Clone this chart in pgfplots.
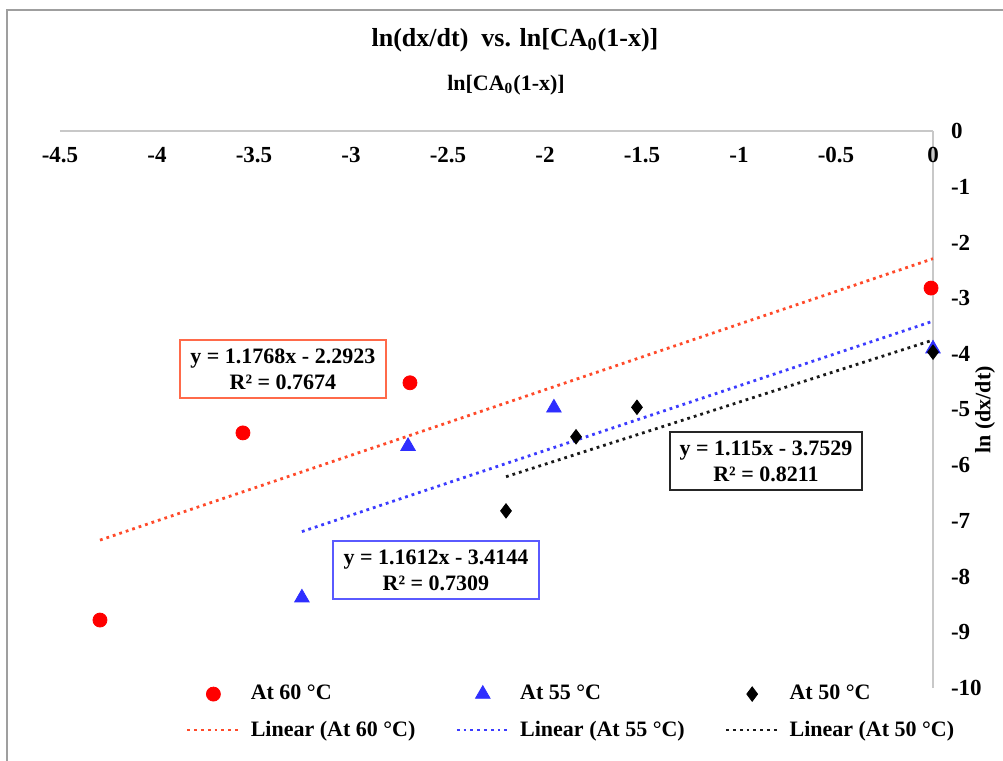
\documentclass[border=0pt]{standalone}
\usepackage{fontspec}
\setmainfont{Liberation Serif}
\usepackage{pgfplots}
\pgfplotsset{compat=1.18}

\definecolor{redpt}{HTML}{FF0000}
\definecolor{bluept}{HTML}{2E2EFF}
\definecolor{redln}{HTML}{FF4A2A}
\definecolor{blueln}{HTML}{3C3CFF}
\definecolor{blackln}{HTML}{1A1A1A}
\definecolor{redbox}{HTML}{FF6A4A}
\definecolor{bluebox}{HTML}{5A5AFF}
\definecolor{axgray}{HTML}{C8C8C8}

\newcommand{\tickfont}{\bfseries\fontsize{11.5}{13}\selectfont}
\newcommand{\lblfont}{\bfseries\fontsize{11}{13}\selectfont}

\begin{document}
\begin{tikzpicture}
\useasboundingbox (0pt,0pt) rectangle (501.5pt,-380.5pt);
\draw[gray!75, line width=1.3pt] (3.5pt,-380.5pt) -- (3.5pt,-5pt) -- (501.5pt,-5pt);

\node[font=\bfseries\fontsize{13}{15}\selectfont] at (257.5pt,-20pt) {ln(dx/dt)\ \ vs. ln[CA\textsubscript{0}(1-x)]};
\node[font=\lblfont] at (253pt,-42.5pt) {ln[CA\textsubscript{0}(1-x)]};
\node[font=\lblfont, rotate=90] at (492.5pt,-205pt) {ln (dx/dt)};

\begin{axis}[
  anchor=north east, at={(466.5pt,-65.5pt)},
  x=97pt, y=27.85pt,
  xmin=-4.5, xmax=0, ymin=-10, ymax=0,
  enlargelimits=false,
  clip=false,
  axis x line*=top, axis y line*=right,
  axis line style={axgray, line width=0.8pt},
  major tick length=0pt,
  xtick={-4.5,-4,-3.5,-3,-2.5,-2,-1.5,-1,-0.5,0},
  xticklabels={-4.5,-4,-3.5,-3,-2.5,-2,-1.5,-1,-0.5,0},
  ytick={-10,-9,-8,-7,-6,-5,-4,-3,-2,-1,0},
  yticklabels={-10,-9,-8,-7,-6,-5,-4,-3,-2,-1,0},
  xticklabel style={font=\tickfont, anchor=center, yshift=-12pt},
  yticklabel style={font=\tickfont, anchor=west, xshift=5.5pt},
  legend columns=3,
  legend cell align=left,
  legend image code/.code={\draw[mark repeat=2,mark phase=2,#1] plot coordinates {(0pt,0pt) (13pt,0pt) (26pt,0pt)};},
  legend style={draw=none, fill=none, at={(0.137,0.02)}, anchor=north west,
    font=\lblfont, /tikz/row sep=5pt,
    /tikz/every odd column/.append style={column sep=3pt},
    /tikz/every even column/.append style={column sep=18pt}},
]
\addplot[only marks, mark=*, mark size=3.5pt, color=redpt]
  coordinates {(-4.294,-8.78) (-3.557,-5.42) (-2.696,-4.52) (-0.01,-2.82)};
\addlegendentry{At 60 °C}
\addplot[only marks, mark=triangle*, mark size=4.2pt, color=bluept]
  coordinates {(-3.253,-8.38) (-2.706,-5.66) (-1.954,-4.97) (0,-3.91)};
\addlegendentry{At 55 °C}
\addplot[only marks, mark=diamond*, mark size=3.6pt, color=black]
  coordinates {(-2.201,-6.82) (-1.840,-5.49) (-1.526,-4.96) (0,-3.97)};
\addlegendentry{At 50 °C}
\addplot[redln, line width=1.4pt, dash pattern=on 1.4pt off 2pt]
  coordinates {(-4.294,-7.345) (0,-2.292)};
\addlegendentry{Linear (At 60 °C)}
\addplot[blueln, line width=1.4pt, dash pattern=on 1.4pt off 2pt]
  coordinates {(-3.253,-7.192) (0,-3.414)};
\addlegendentry{Linear (At 55 °C)}
\addplot[blackln, line width=1.4pt, dash pattern=on 1.4pt off 2pt]
  coordinates {(-2.201,-6.207) (0,-3.753)};
\addlegendentry{Linear (At 50 °C)}

\node[draw=redbox, line width=0.8pt, fill=white, align=center, font=\lblfont, inner sep=3pt, minimum width=103pt, minimum height=29pt]
  at (axis cs:-3.351,-4.273) {y = 1.1768x - 2.2923\\R² = 0.7674};
\node[draw=bluebox, line width=0.8pt, fill=white, align=center, font=\lblfont, inner sep=3pt, minimum width=103pt, minimum height=29pt]
  at (axis cs:-2.562,-7.88) {y = 1.1612x - 3.4144\\R² = 0.7309};
\node[draw=black!85, line width=0.8pt, fill=white, align=center, font=\lblfont, inner sep=3pt, minimum width=96pt, minimum height=29pt]
  at (axis cs:-0.861,-5.925) {y = 1.115x - 3.7529\\R² = 0.8211};
\end{axis}
\end{tikzpicture}
\end{document}
